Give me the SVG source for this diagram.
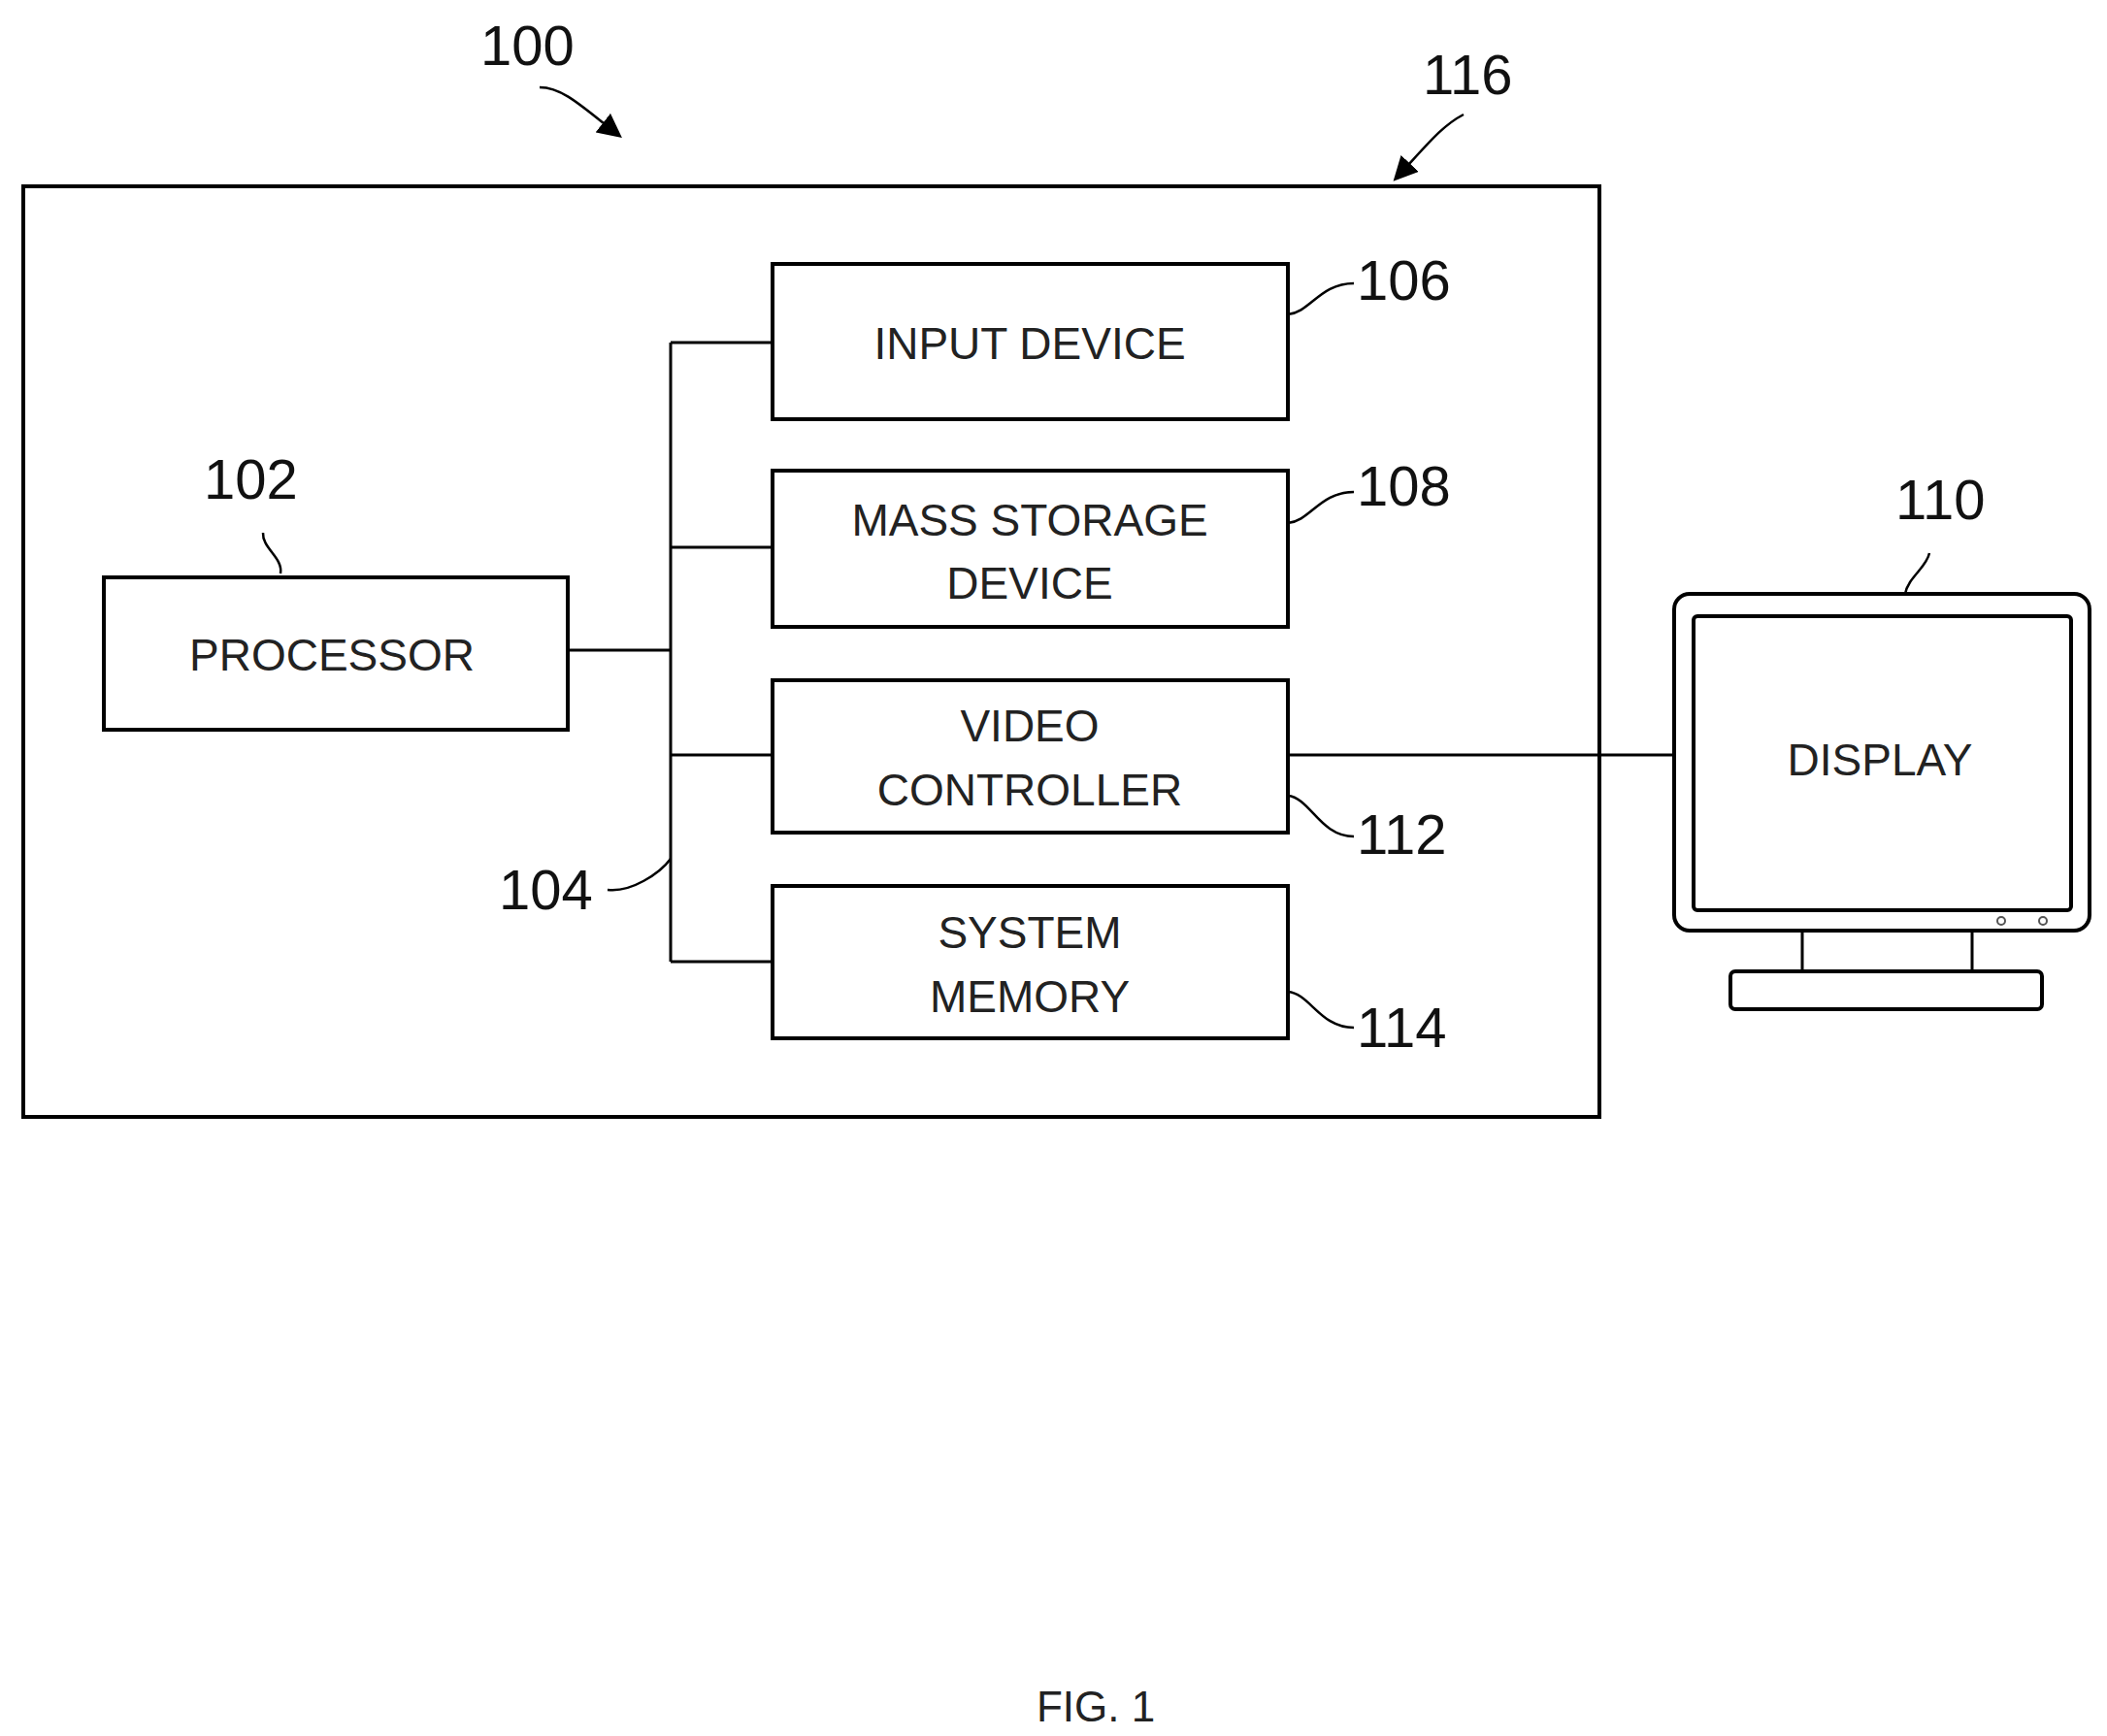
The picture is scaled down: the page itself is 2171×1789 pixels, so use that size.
<svg xmlns="http://www.w3.org/2000/svg" width="2171" height="1789" viewBox="0 0 2171 1789">
<style>
.b{fill:#fff;stroke:#000;stroke-width:4}
.l{fill:none;stroke:#000;stroke-width:3}
.ld{fill:none;stroke:#000;stroke-width:2.5}
.t{font-family:"Liberation Sans",Arial,sans-serif;font-size:46px;text-anchor:middle;fill:#222}
.n{font-family:"Liberation Sans",Arial,sans-serif;font-size:58px;fill:#111}
</style>
<defs><marker id="a" markerWidth="10" markerHeight="10" refX="8" refY="5" orient="auto"><path d="M0,0 L10,5 L0,10 z" fill="#000"/></marker></defs>
<rect width="2171" height="1789" fill="#fff"/>
<g id="system116"><rect class="b" x="24" y="192" width="1624" height="959"/></g>
<g id="connectors">
<path class="l" d="M691,353 V991 M691,353 H796 M691,564 H796 M585,670 H691 M691,778 H796 M691,991 H796 M1327,778 H1725"/>
<path class="ld" d="M1327,324 C1350,322 1360,292 1395,292"/>
<path class="ld" d="M1327,539 C1350,537 1360,507 1395,507"/>
<path class="ld" d="M1327,820 C1350,822 1360,862 1395,862"/>
<path class="ld" d="M1327,1022 C1350,1024 1360,1059 1395,1059"/>
<path class="ld" d="M289,591 C292,575 270,565 271,549"/>
<path class="ld" d="M691,885 C680,900 650,920 626,917"/>
<path class="ld" d="M1963,612 C1966,595 1985,585 1988,570"/>
<path class="ld" marker-end="url(#a)" d="M556,90 C580,90 600,110 637,139"/>
<path class="ld" marker-end="url(#a)" d="M1508,118 C1485,130 1470,150 1439,183"/>
</g>
<g id="processor"><rect class="b" x="107" y="595" width="478" height="157"/><text class="t" x="342" y="691">PROCESSOR</text></g>
<g id="input"><rect class="b" x="796" y="272" width="531" height="160"/><text class="t" x="1061" y="370">INPUT DEVICE</text></g>
<g id="mass"><rect class="b" x="796" y="485" width="531" height="161"/><text class="t" x="1061" y="552">MASS STORAGE</text><text class="t" x="1061" y="617">DEVICE</text></g>
<g id="video"><rect class="b" x="796" y="701" width="531" height="157"/><text class="t" x="1061" y="764">VIDEO</text><text class="t" x="1061" y="830">CONTROLLER</text></g>
<g id="memory"><rect class="b" x="796" y="913" width="531" height="157"/><text class="t" x="1061" y="977">SYSTEM</text><text class="t" x="1061" y="1043">MEMORY</text></g>
<g id="display">
<rect class="b" x="1725" y="612" width="428" height="347" rx="16"/>
<rect class="b" x="1745" y="635" width="389" height="303" rx="4"/>
<path class="l" stroke-width="4" d="M1857,959 V1001 M2032,959 V1001"/>
<rect class="b" x="1783" y="1001" width="321" height="39" rx="5" stroke-width="3"/>
<circle cx="2062" cy="949" r="4" fill="none" stroke="#555" stroke-width="2"/>
<circle cx="2105" cy="949" r="4" fill="none" stroke="#555" stroke-width="2"/>
<text class="t" x="1937" y="799">DISPLAY</text>
</g>
<g id="labels">
<text class="n" x="495" y="67">100</text>
<text class="n" x="1466" y="97">116</text>
<text class="n" x="210" y="514">102</text>
<text class="n" x="1398" y="309">106</text>
<text class="n" x="1398" y="521">108</text>
<text class="n" x="1398" y="880">112</text>
<text class="n" x="1398" y="1079">114</text>
<text class="n" x="514" y="937">104</text>
<text class="n" x="1953" y="535">110</text>
<text class="t" x="1129" y="1774" style="font-size:44px">FIG. 1</text>
</g>
</svg>
